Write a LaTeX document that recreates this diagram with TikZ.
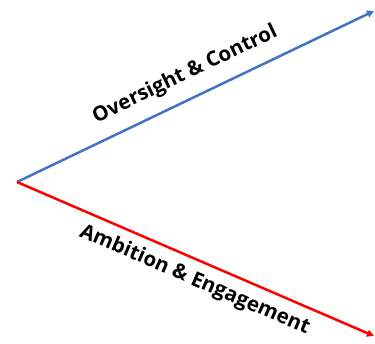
\documentclass[tikz,border=0pt]{standalone}
\usepackage{xcolor}
\usepackage{fontspec}
\setmainfont{Open Sans}
\usepackage{tikz}
\usetikzlibrary{positioning, arrows.meta}
\definecolor{lineblue}{HTML}{4472C4}
\definecolor{linered}{HTML}{FF0000}

\begin{document}
\begin{tikzpicture}[x=1pt, y=-1pt,
    axis/.style={line width=2.5pt, -{Triangle[length=7pt, width=7pt]}},
    axislabel/.style={font=\bfseries\fontsize{20.5}{24}\selectfont, sloped, inner sep=0pt, text=black}]
    \useasboundingbox (0,0) rectangle (375,343);
    \coordinate (origin) at (17,182);
    \coordinate (oversight) at (374,11);
    \coordinate (ambition) at (374,336);
    \draw[axis, lineblue] (origin) -- (oversight)
      node[axislabel, pos=0.5, above=12.5pt] (ovlabel) {Oversight \& Control};
    \draw[axis, linered] (origin) -- (ambition)
      node[axislabel, pos=0.52, below=8.5pt] (amlabel) {Ambition \& Engagement};
  \end{tikzpicture}
\end{document}
